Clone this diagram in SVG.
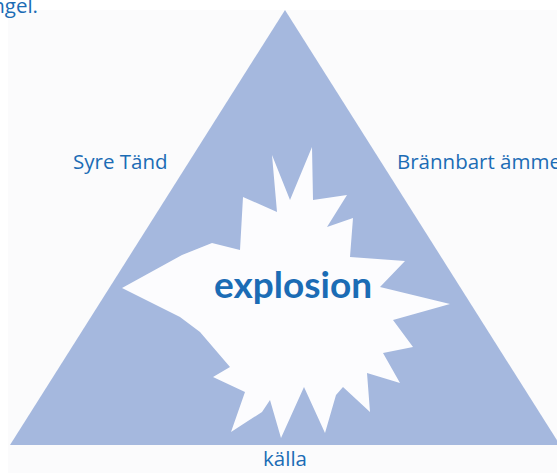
<svg xmlns="http://www.w3.org/2000/svg" width="557" height="473" viewBox="0 0 557 473">
<style>
.lbl{font-family:"Open Sans","Lato","Liberation Sans",sans-serif;font-size:20.5px;fill:#1b6cb5}
.big{font-family:"Lato","Open Sans","Liberation Sans",sans-serif;font-size:37px;font-weight:bold;fill:#1b6cb5}
</style>
<rect x="0" y="0" width="557" height="473" fill="#ffffff"/>
<rect x="8" y="10" width="549" height="463" fill="#fbfbfc"/>
<g id="triangle">
<polygon points="285,10 560,445 10,445" fill="#a5b8de"/>
</g>
<g id="explosion">
<polygon fill="#fcfcfe" points="272,155 290,200 312,147 313,200 347,195 327,227 353,218 350,257 405,261 380,287 450,304 393,320 413,347 383,353 400,383 367,373 370,412 343,387 336,395 325,433 304,387 281,438 270,400 262,412 231,432 245,392 213,377 230,367 200,332 180,317 122,288 182,255 212,243 240,250 243,197 277,212"/>
<text class="big" x="293" y="298" text-anchor="middle">explosion</text>
</g>
<g id="labels">
<text class="lbl" x="38" y="13" text-anchor="end">ngel.</text>
<text class="lbl" x="73" y="169">Syre Tänd</text>
<text class="lbl" x="397" y="169">Brännbart ämme</text>
<text class="lbl" x="285" y="466" text-anchor="middle">källa</text>
</g>
<g id="connectors"></g>
</svg>
